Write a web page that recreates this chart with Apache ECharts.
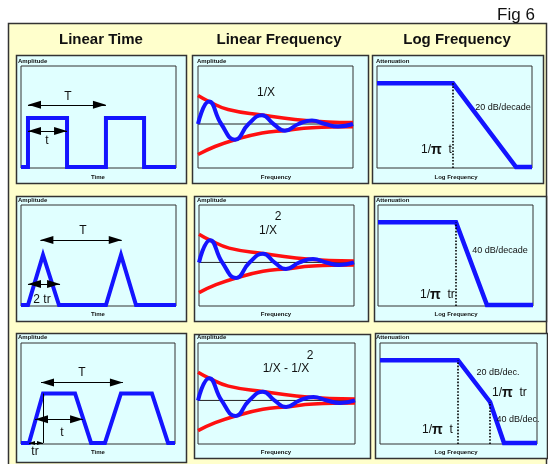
<!DOCTYPE html>
<html>
<head>
<meta charset="utf-8">
<script src="https://cdn.jsdelivr.net/npm/echarts@6/dist/echarts.min.js"></script>
<style>
html,body{margin:0;padding:0;background:#ffffff;}
#c{width:548px;height:464px;}
</style>
</head>
<body>
<div id="c"></div>
<script>
// ---- Linear time (x: % of the time window, y: % of the amplitude window) ----
const squareWave    = [[0,1],[4.5,1],[4.5,49],[29.7,49],[29.7,1],[54.8,1],[54.8,49],[79.4,49],[79.4,1],[100,1]];
const triangleWave  = [[0,1],[4.5,1],[14.2,50.5],[24.5,1],[54.8,1],[64.5,50.5],[74.2,1],[100,1]];
const trapezoidWave = [[0,1],[5.2,1],[14.3,50],[35.1,50],[45.5,1],[54.5,1],[64.9,50],[85,50],[95.5,1],[100,1]];

// dimension arrows: [xFrom, y, xTo]
const squareArrows    = [[4.5,62,54.8],[4.5,36.3,29.7]];
const triangleArrows  = [[12.5,65.3,65],[4.5,21.8,25.2]];
const trapezoidArrows = [[13,60.8,66.2],[9.1,24.5,40.3]];
const riseTimeArrow   = [5.2,1,14.3];
const riseMarker      = [14.3,1,50];

// ---- Linear frequency: ringing spectrum and its envelope ----
const ringX      = [0, 7.1, 15, 23.9, 32.6, 41.3, 48.7, 56.1, 64.8, 73.5, 82, 90.3, 100];
const ringY      = [0, 22.5, 0, -15.7, 0, 8.7, 0, -6.7, 0, 3.5, 0, -2.5, 0];
const envUpperX  = [0, 7.1, 19.4, 41.3, 62.6, 83.9, 100];
const envUpperY  = [28.5, 22.5, 14.5, 9, 4.5, 2, 1.5];
const envLowerX  = [0, 11, 23.9, 41.3, 56.1, 73.5, 100];
const envLowerY  = [-30.5, -22.5, -15.7, -9, -6.5, -3.7, -2.7];

// ---- Log frequency: attenuation asymptotes ----
const lowpass20 = [[0,83],[49,83],[89.7,1],[100,1]];
const lowpass40 = [[0,83],[50.3,83],[70.3,1],[100,1]];
const lowpass2040 = [[0,83],[49.7,83],[70.1,41.6],[79,1],[100,1]];
const corner20 = [49, 83];
const corner40 = [50.3, 83];
const corners2040 = [[49.7, 83], [70.1, 41.6]];

const FONT = '"Liberation Sans", Arial, Helvetica, sans-serif';
const BLUE = '#1414ff';
const RED = '#ff1010';

const zip = (xs, ys) => xs.map((x, i) => [x, ys[i]]);

const gridBoxes = [
  [21,66,155,102],[198,66,155,102],[377,66,155,102],
  [21,205,155,101],[199,205,155,101],[378,205,155,101],
  [21,343,154,101],[198,343,157,101],[380,343,157,101]
];
const grid = gridBoxes.map(b => ({
  left:b[0], top:b[1], width:b[2], height:b[3],
  show:true, borderColor:'#333', borderWidth:1, backgroundColor:'transparent'
}));
const xAxis = gridBoxes.map((b,i) => ({gridIndex:i, type:'value', min:0, max:100, show:false}));
const yAxis = gridBoxes.map((b,i) => {
  const col = i % 3;
  return col === 1
    ? {gridIndex:i, type:'value', min:-44, max:58, show:false}
    : {gridIndex:i, type:'value', min:0, max:100, show:false};
});

function arrowLines(list, size) {
  const s = size || [8,13];
  return list.map(a => [
    {coord:[a[0],a[1]], symbol:'triangle', symbolSize:s, symbolOffset:[0, s[1]/2]},
    {coord:[a[2],a[1]], symbol:'triangle', symbolSize:s, symbolOffset:[0, s[1]/2]}
  ]);
}
function plainMark(data, dotted) {
  return {
    silent:true, animation:false, symbol:['none','none'],
    lineStyle:{color:'#000', width: dotted ? 1.6 : 1, type: dotted ? 'dotted' : 'solid'},
    label:{show:false}, emphasis:{disabled:true},
    data:data
  };
}
function arrowMark(data) {
  return {
    silent:true, animation:false,
    lineStyle:{color:'#000', width:1, type:'solid'},
    label:{show:false}, emphasis:{disabled:true},
    data:data
  };
}
function line(i, data, color, width, extra) {
  return Object.assign({
    type:'line', xAxisIndex:i, yAxisIndex:i, data:data,
    symbol:'none', showSymbol:false, silent:true, animation:false,
    lineStyle:{color:color, width:width, cap:'butt', join:'miter'},
    itemStyle:{color:color}
  }, extra || {});
}

const series = [];
// time domain
series.push(line(0, squareWave, BLUE, 4, {markLine: arrowMark(arrowLines(squareArrows))}));
series.push(line(3, triangleWave, BLUE, 4, {markLine: arrowMark(arrowLines(triangleArrows))}));
series.push(line(6, trapezoidWave, BLUE, 4, {markLine: arrowMark(
  arrowLines(trapezoidArrows)
    .concat(arrowLines([riseTimeArrow], [4,6]))
    .concat([[{coord:[riseMarker[0],riseMarker[1]], symbol:'none'},{coord:[riseMarker[0],riseMarker[2]], symbol:'none'}]])
)}));
// linear frequency, same curves in the three rows
[1,4,7].forEach(i => {
  series.push(line(i, [[0,0],[100,0]], '#222', 1));
  series.push(line(i, zip(envUpperX, envUpperY), RED, 3.5, {smooth:0.45}));
  series.push(line(i, zip(envLowerX, envLowerY), RED, 3.5, {smooth:0.45}));
  series.push(line(i, zip(ringX, ringY), BLUE, 4, {smooth:0.5}));
});
// log frequency
series.push(line(2, lowpass20, BLUE, 4.5, {markLine: plainMark([[{coord:[corner20[0],0]},{coord:corner20}]], true)}));
series.push(line(5, lowpass40, BLUE, 4.5, {markLine: plainMark([[{coord:[corner40[0],0]},{coord:corner40}]], true)}));
series.push(line(8, lowpass2040, BLUE, 4.5, {markLine: plainMark(
  corners2040.map(c => [{coord:[c[0],0]},{coord:c}]), true)}));

// ---- frame, panels and text ----
const graphic = [];
graphic.push({type:'rect', z:-20, silent:true, shape:{x:8.5, y:23.5, width:538, height:460},
  style:{fill:'#ffffcc', stroke:'#333', lineWidth:1.5}});
const panels = [
  [16,55,170,128],[192,55,176,128],[372,55,171,128],
  [16,196,170,125],[194,196,174,125],[374,196,172,125],
  [16,333,170,129],[194,334,176,124],[375,333,172,125]
];
panels.forEach(p => graphic.push({type:'rect', z:-10, silent:true,
  shape:{x:p[0]+0.5, y:p[1]+0.5, width:p[2], height:p[3]},
  style:{fill:'#e0ffff', stroke:'#333', lineWidth:1.5}}));

function txt(x, y, text, font, align, extra) {
  graphic.push(Object.assign({type:'text', z:50, silent:true, x:x, y:y,
    style:Object.assign({text:text, font:font, fill:'#111',
      textAlign:align || 'center', align:align || 'center',
      textVerticalAlign:'middle', verticalAlign:'middle'}, extra || {})}));
}
const titleFont = 'bold 15px ' + FONT;
const smallFont = 'bold 6px ' + FONT;
const noteFont = '12px ' + FONT;
const dbFont = '9px ' + FONT;

txt(516, 15, 'Fig 6', '17px ' + FONT);
txt(101, 40, 'Linear Time', titleFont);
txt(279, 40, 'Linear Frequency', titleFont);
txt(457, 40, 'Log Frequency', titleFont);

const rowLabelY = [61, 200, 337];
const rowAxisY = [177, 314, 452];
rowLabelY.forEach((y, r) => {
  txt(18, y, 'Amplitude', smallFont, 'left');
  txt(197, y, 'Amplitude', smallFont, 'left');
  txt(376, y, 'Attenuation', smallFont, 'left');
  txt(98, rowAxisY[r], 'Time', smallFont);
  txt(276, rowAxisY[r], 'Frequency', smallFont);
  txt(456, rowAxisY[r], 'Log Frequency', smallFont);
});

// time-domain annotations
txt(68, 97, 'T', noteFont);
txt(47, 141, 't', noteFont);
txt(83, 231, 'T', noteFont);
txt(42, 300, '2 tr', noteFont);
txt(82, 373, 'T', noteFont);
txt(62, 433, 't', noteFont);
txt(35, 452, 'tr', noteFont);

// spectrum annotations
txt(266, 93, '1/X', noteFont);
txt(268, 231, '1/X', noteFont);
txt(278, 217, '2', noteFont);
txt(286, 369, '1/X - 1/X', noteFont);
txt(310, 356, '2', noteFont);

// log-frequency annotations
const piRich = {a:{font:'12px ' + FONT, fill:'#111'}, b:{font:'bold 14px ' + FONT, fill:'#111'}};
function piLabel(x, y, suffix) {
  graphic.push({type:'text', z:50, silent:true, x:x, y:y,
    style:{text:'{a|1/}{b|π}{a|  ' + suffix + '}', rich:piRich,
      textAlign:'left', align:'left', textVerticalAlign:'middle', verticalAlign:'middle'}});
}
txt(503, 108, '20 dB/decade', dbFont);
piLabel(421, 150, 't');
txt(500, 251, '40 dB/decade', dbFont);
piLabel(420, 295, 'tr');
txt(498, 373, '20 dB/dec.', dbFont);
piLabel(492, 393, 'tr');
txt(518, 420, '40 dB/dec.', dbFont);
piLabel(422, 430, 't');

const chart = echarts.init(document.getElementById('c'), null, {renderer:'canvas'});
chart.setOption({
  animation:false,
  backgroundColor:'#ffffff',
  grid:grid, xAxis:xAxis, yAxis:yAxis,
  series:series,
  graphic:graphic
});
</script>
</body>
</html>
